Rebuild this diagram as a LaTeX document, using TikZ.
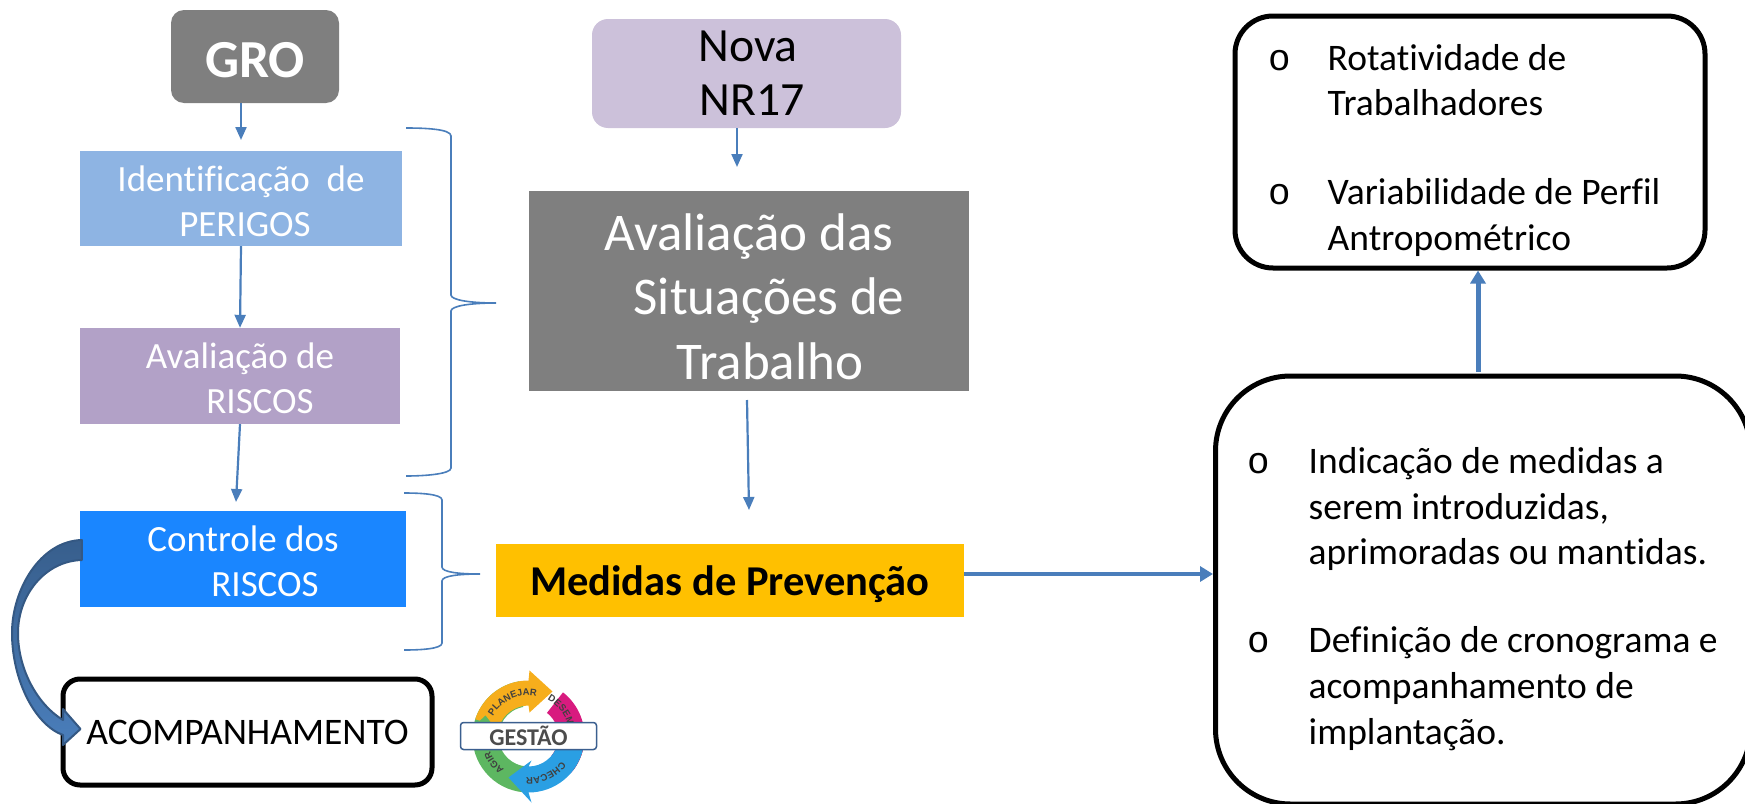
\documentclass[tikz,border=0pt]{standalone}
\usepackage{fontspec}
\setmainfont{Carlito}[Ligatures=NoCommon]
\newfontfamily\bulletfont{Liberation Mono}
\newfontfamily\logofont{Liberation Sans}
\usetikzlibrary{arrows.meta,decorations.text}
\definecolor{flowblue}{HTML}{4A7EBB}
\definecolor{boxgray}{HTML}{7F7F7F}
\definecolor{ident}{HTML}{8EB4E3}
\definecolor{aval}{HTML}{B2A1C7}
\definecolor{ctrl}{HTML}{1A86FF}
\definecolor{nova}{HTML}{CCC1DA}
\definecolor{prev}{HTML}{FFC000}
\definecolor{logogreen}{HTML}{5DB761}
\definecolor{logopink}{HTML}{D81B7F}
\definecolor{logored}{HTML}{D62B45}
\definecolor{logoblue}{HTML}{2A9FE3}
\definecolor{logoyellow}{HTML}{F6AE1C}
\definecolor{logoline}{HTML}{3B5F8F}
\newcommand{\fsize}[1]{\pgfmathsetmacro\fskip{1.22*#1}\fontsize{#1}{\fskip}\selectfont}
\tikzset{
	flatbox/.style={rectangle, inner sep=0pt, align=center, text=white},
	listbox/.style={draw=black, line width=5pt, fill=white, inner sep=0pt},
	listtext/.style={anchor=west, inner sep=0pt, font=\fsize{37.5}},
	thinarrow/.style={draw=flowblue, line width=2.2pt, -{Triangle[length=13pt,width=11pt]}},
	thickarrow/.style={draw=flowblue, line width=4.4pt, -{Triangle[length=13pt,width=15pt]}},
	bracket/.style={draw=flowblue, line width=1.6pt},
	logotext/.style={decorate, decoration={text along path, text align=center, text={|\logofont\fontsize{9.5}{10}\selectfont\bfseries\color{black!75}|#1}}}
}
\begin{document}
\begin{tikzpicture}[x=1pt, y=-1pt]
	\useasboundingbox (0,0) rectangle (1745,803);
	
	% left column
	\node[flatbox, fill=boxgray, rounded corners=13pt, minimum width=168pt, minimum height=93pt, font=\fsize{53.5}\bfseries] (gro) at (255,56.5) {\rule{0pt}{42pt}GRO};
	\node[flatbox, fill=ident, minimum width=322pt, minimum height=95pt, font=\fsize{37}] (ident) at (241,198.5) {\rule{0pt}{31pt}Identificação\ \ de\\\hspace*{8pt}PERIGOS};
	\node[flatbox, fill=aval, minimum width=320pt, minimum height=96pt, font=\fsize{37}] (aval) at (240,376) {\rule{0pt}{31pt}Avaliação de\\\hspace*{40pt}RISCOS};
	\node[flatbox, fill=ctrl, minimum width=326pt, minimum height=96pt, font=\fsize{37}] (ctrl) at (243,559) {\rule{0pt}{31pt}Controle dos\\\hspace*{44pt}RISCOS};
	\node[listbox, rounded corners=17pt, minimum width=369pt, minimum height=106pt, font=\fsize{37.5}] (acomp) at (247.5,732) {ACOMPANHAMENTO};
	
	% middle column
	\node[flatbox, fill=nova, text=black, rounded corners=16pt, minimum width=309pt, minimum height=109pt, font=\fsize{47.7}] (nova) at (746.5,73.5) {\hspace*{3pt}Nova\\[-4pt]\hspace*{11pt}NR17};
	\node[flatbox, fill=boxgray, minimum width=440pt, minimum height=200pt, font=\fsize{53}] (sit) at (749,291) {\rule{0pt}{48pt}Avaliação das\\\hspace*{40pt}Situações de\\\hspace*{42pt}Trabalho};
	\node[flatbox, fill=prev, text=black, minimum width=468pt, minimum height=73pt, font=\fsize{42.5}\bfseries] (prev) at (730,580.5) {\rule{0pt}{37pt}Medidas de Prevenção};
	
	% right column
	\node[listbox, rounded corners=38pt, minimum width=470pt, minimum height=252pt] (fatores) at (1470,142) {};
	\node[listtext] (fatorestext) at (1268,151) {\begin{tabular}{@{}l@{\hspace{37pt}}l@{}}
		{\bulletfont o} & Rotatividade de\\
		& Trabalhadores\\[43pt]
		{\bulletfont o} & Variabilidade de Perfil\\
		& Antropométrico
	\end{tabular}};
	\node[listbox, rounded corners=75pt, minimum width=535pt, minimum height=428pt] (acoes) at (1483,590) {};
	\node[listtext] (acoestext) at (1247,599.5) {\begin{tabular}{@{}l@{\hspace{39pt}}l@{}}
		{\bulletfont o} & Indicação de medidas a\\
		& serem introduzidas,\\
		& aprimoradas ou mantidas.\\[42pt]
		{\bulletfont o} & Definição de cronograma e\\
		& acompanhamento de\\
		& implantação.
	\end{tabular}};
	
	% free ends
	\coordinate (groend) at (241,140);
	\coordinate (novaend) at (737,167);
	\coordinate (avalend) at (236,502);
	\coordinate (sitstart) at (747,400);
	\coordinate (sitend) at (749,510);
	\coordinate (prevstart) at (964,574);
	\coordinate (upstart) at (1478,372);
	
	\draw[thinarrow] (groend |- gro.south) to (groend);
	\draw[thinarrow] (ident.south) to (aval.north);
	\draw[thinarrow] (aval.south) to (avalend);
	\draw[thinarrow] (novaend |- nova.south) to (novaend);
	\draw[thinarrow] (sitstart) to (sitend);
	\draw[thickarrow] (prevstart) to (prevstart -| acoes.west);
	\draw[thickarrow, line width=5pt] (upstart) to (upstart |- fatores.south);
	
	% braces
	\draw[bracket] (406,128) .. controls (425,128) and (451,129) .. (451,136) -- (451,295) .. controls (451,300) and (470,303) .. (496,303) .. controls (470,303) and (451,306) .. (451,311) -- (451,468) .. controls (451,474) and (425,476) .. (406,476);
	\draw[bracket] (404,493) .. controls (420,493) and (442,494) .. (442,500) -- (442,567) .. controls (442,572) and (458,574) .. (480,574) .. controls (458,574) and (442,576) .. (442,581) -- (442,643) .. controls (442,649) and (420,650) .. (404,650);
	
	% block arrow
	\draw[draw=flowblue!70!black, line width=2pt, top color=flowblue!75!black, bottom color=flowblue, line join=round] ([xshift=2pt,yshift=19pt]ctrl.west) .. controls (40,541) and (12,590) .. (12,633) .. controls (12,680) and (35,725) .. (63,735) -- (63,745) -- ([xshift=20pt,yshift=3pt]acomp.west) -- (63,709) -- (63,720) .. controls (38,705) and (18,670) .. (18,633) .. controls (18,595) and (45,561) .. ([xshift=2pt,yshift=-1pt]ctrl.west) -- cycle;
	
	% logo
	\begin{scope}[shift={(528.5,736.5)}, x=1pt, y=1pt]
		\fill[logogreen] (-95:56pt) arc (-95:-260:56pt) -- (-260:30pt) arc (-260:-95:30pt) -- cycle;
		\fill[logopink] (52:56pt) arc (52:-40:56pt) -- (-40:30pt) arc (-40:52:30pt) -- cycle;
		\fill[logored] (-8:56pt) arc (-8:-38:56pt) -- (-38:30pt) arc (-38:-8:30pt) -- cycle;
		\fill[logoblue] (-12:56pt) arc (-12:-90:56pt) -- (3,-66) -- (-20,-41) -- (3,-24) -- (-90:30pt) arc (-90:-15:30pt) -- cycle;
		\fill[logoyellow] (162:56pt) arc (162:90:56pt) -- (1,66) -- (24,45) -- (1,24) -- (90:31pt) arc (90:162:31pt) -- cycle;
		\fill[logogreen] (-50,14.5) -- (-43,21) -- (-38,14.5) -- cycle;
		\path[logotext=PLANEJAR] (157:41pt) arc (157:72:41pt);
		\path[logotext=DESEM] (62:41pt) arc (62:16:41pt);
		\path[logotext=CHECAR] (-33:41pt) arc (-33:-97:41pt);
		\path[logotext=AGIR] (-118:41pt) arc (-118:-168:41pt);
	\end{scope}
	\node[draw=logoline, line width=1.5pt, fill=white, rounded corners=3pt, inner sep=0pt, minimum width=136pt, minimum height=27pt, text=black!70, font=\fsize{24}\bfseries] (gestao) at (528.5,736) {GESTÃO};
	
\end{tikzpicture}
\end{document}
